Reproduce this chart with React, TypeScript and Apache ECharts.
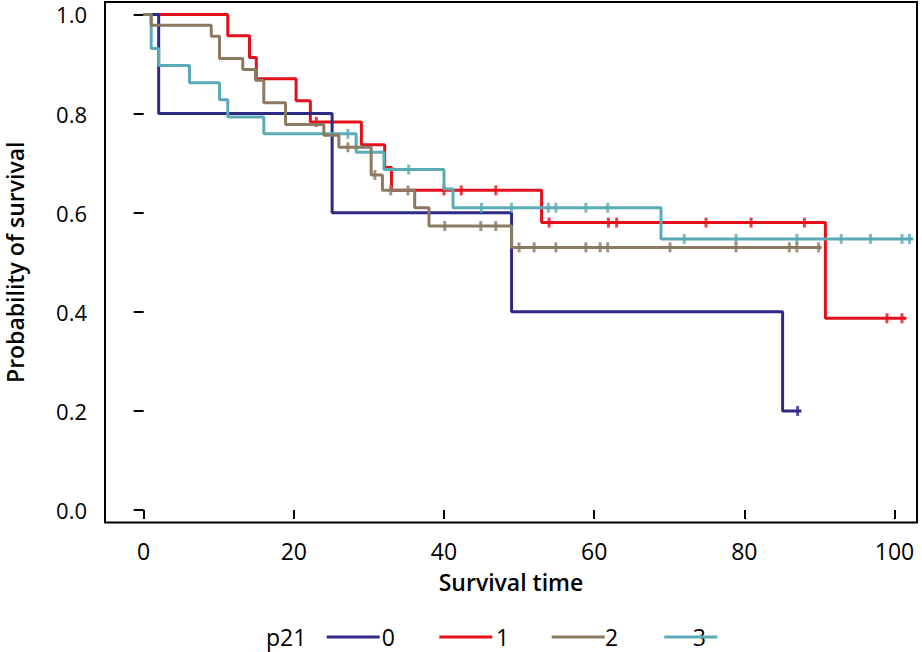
import React, { useEffect, useRef } from "react";
import * as echarts from "echarts";

// ---------- data ----------
const legendTitle = "p21";
const groupNames = ["0", "1", "2", "3"];
const xTicks = [0, 20, 40, 60, 80, 100];
const yTicks = [0, 0.2, 0.4, 0.6, 0.8, 1.0];

// group 0
const g0EventTimes = [2.0, 25.1, 49.0, 85.1];
const g0Survival = [0.8, 0.6, 0.4, 0.2];
const g0CensorTimes = [87.1];
const g0LastTime = 87.6;

// group 1
const g1EventTimes = [11.2, 14.1, 15.0, 20.3, 22.2, 29.0, 32.1, 33.0, 53.0, 90.8];
const g1Survival = [0.957, 0.913, 0.87, 0.826, 0.783, 0.737, 0.691, 0.645, 0.58, 0.387];
const g1CensorTimes = [23.0, 40.0, 42.3, 46.9, 54.0, 61.9, 63.0, 74.9, 80.9, 88.0, 99.0, 101.0];
const g1LastTime = 101.6;

// group 2
const g2EventTimes = [1.0, 9.0, 10.1, 13.2, 14.9, 16.0, 18.9, 24.0, 26.0, 30.3, 31.8, 36.1, 38.0, 49.0];
const g2Survival = [0.978, 0.956, 0.911, 0.889, 0.867, 0.822, 0.778, 0.756, 0.732, 0.676, 0.645, 0.61, 0.573, 0.53];
const g2CensorTimes = [27.2, 30.8, 32.9, 35.2, 40.1, 44.9, 46.9, 50.0, 52.0, 54.9, 58.9, 60.8, 61.8, 70.1, 78.9, 86.0, 87.0, 89.9];
const g2LastTime = 90.3;

// group 3
const g3EventTimes = [1.0, 2.0, 6.1, 10.1, 11.2, 16.0, 28.3, 32.0, 40.0, 41.2, 68.9];
const g3Survival = [0.931, 0.897, 0.862, 0.828, 0.793, 0.759, 0.722, 0.687, 0.648, 0.61, 0.547];
const g3CensorTimes = [27.2, 35.3, 45.0, 49.0, 53.9, 54.9, 58.9, 61.8, 72.0, 78.9, 87.0, 92.9, 96.8, 101.0, 102.0];
const g3LastTime = 102.5;

// ---------- styles ----------
const colors = ["#2e2a86", "#e3101c", "#8a7a62", "#5aabb5"];
const zOrder = [3, 2, 5, 4];
const FONT = "'Open Sans', 'Noto Sans', sans-serif";

const groups = [
  { ev: g0EventTimes, s: g0Survival, c: g0CensorTimes, last: g0LastTime },
  { ev: g1EventTimes, s: g1Survival, c: g1CensorTimes, last: g1LastTime },
  { ev: g2EventTimes, s: g2Survival, c: g2CensorTimes, last: g2LastTime },
  { ev: g3EventTimes, s: g3Survival, c: g3CensorTimes, last: g3LastTime },
];

function survivalAt(ev: number[], s: number[], t: number) {
  let v = 1;
  for (let i = 0; i < ev.length; i++) if (ev[i] <= t) v = s[i];
  return v;
}

export default function App() {
  const ref = useRef<HTMLDivElement>(null);
  useEffect(() => {
    if (!ref.current) return;
    const chart = echarts.init(ref.current, null, { renderer: "svg" });
    const series: any[] = [];
    groups.forEach((g, i) => {
      const pts: number[][] = [[0, 1]];
      g.ev.forEach((t, k) => pts.push([t, g.s[k]]));
      pts.push([g.last, g.s[g.s.length - 1]]);
      series.push({
        name: groupNames[i],
        type: "line",
        step: "end",
        data: pts,
        symbol: "none",
        lineStyle: { color: colors[i], width: 3 },
        z: zOrder[i],
        silent: true,
      });
      series.push({
        name: groupNames[i] + "c",
        type: "scatter",
        data: g.c.map((t) => [t, survivalAt(g.ev, g.s, t)]),
        symbol: "rect",
        symbolSize: [3, 10],
        itemStyle: { color: colors[i] },
        z: zOrder[i],
        silent: true,
      });
    });

    const legendStarts = [326.7, 439.3, 551.7, 664.3];
    const labelOffsets = [55, 56.7, 53.3, 28.4];
    const legendY = 637;
    const textStyle = (text: string) => ({
      text,
      fontSize: 23,
      fontFamily: FONT,
      fill: "#000",
      align: "left",
      verticalAlign: "middle",
      textAlign: "left",
      textVerticalAlign: "middle",
    });
    const graphic: any[] = [
      { type: "text", x: 266, y: legendY, style: textStyle(legendTitle), z: 10 },
    ];
    groupNames.forEach((n, i) => {
      graphic.push({
        type: "text",
        x: legendStarts[i] + labelOffsets[i],
        y: legendY,
        style: textStyle(n),
        z: 10,
      });
      graphic.push({
        type: "line",
        shape: { x1: legendStarts[i], y1: legendY, x2: legendStarts[i] + 53, y2: legendY },
        style: { stroke: colors[i], lineWidth: 3 },
        z: 11,
      });
    });

    chart.setOption({
      animation: false,
      backgroundColor: "#fff",
      grid: {
        left: 105,
        right: 5,
        top: 2,
        bottom: 129.5,
        show: true,
        borderColor: "#000",
        borderWidth: 2,
        backgroundColor: "transparent",
        containLabel: false,
        outerBoundsMode: "none",
      },
      xAxis: {
        type: "value",
        min: -5.15,
        max: 103,
        name: "Survival time",
        nameLocation: "middle",
        nameGap: 48,
        nameTextStyle: { fontSize: 23, fontWeight: 600, fontFamily: FONT, color: "#000" },
        axisLine: { show: false },
        splitLine: { show: false },
        axisTick: { show: true, length: 9, customValues: xTicks, lineStyle: { color: "#000", width: 2 } },
        axisLabel: { customValues: xTicks, fontSize: 23, fontFamily: FONT, color: "#000", margin: 17 },
      },
      yAxis: {
        type: "value",
        min: -0.025,
        max: 1.025,
        name: "Probability of survival",
        nameLocation: "middle",
        nameGap: 78,
        nameTextStyle: { fontSize: 23, lineHeight: 24, fontWeight: 600, fontFamily: FONT, color: "#000" },
        axisLine: { show: false },
        splitLine: { show: false },
        axisTick: { show: true, length: 10, customValues: yTicks, lineStyle: { color: "#000", width: 2 } },
        axisLabel: {
          customValues: yTicks,
          fontSize: 22,
          lineHeight: 18,
          fontFamily: FONT,
          color: "#000",
          margin: 18,
          formatter: (v: number) => v.toFixed(1),
        },
      },
      graphic,
      series,
    });
    return () => chart.dispose();
  }, []);
  return (
    <div
      ref={ref}
      style={{ position: "fixed", left: 0, top: 0, width: 922, height: 652, background: "#fff" }}
    />
  );
}
